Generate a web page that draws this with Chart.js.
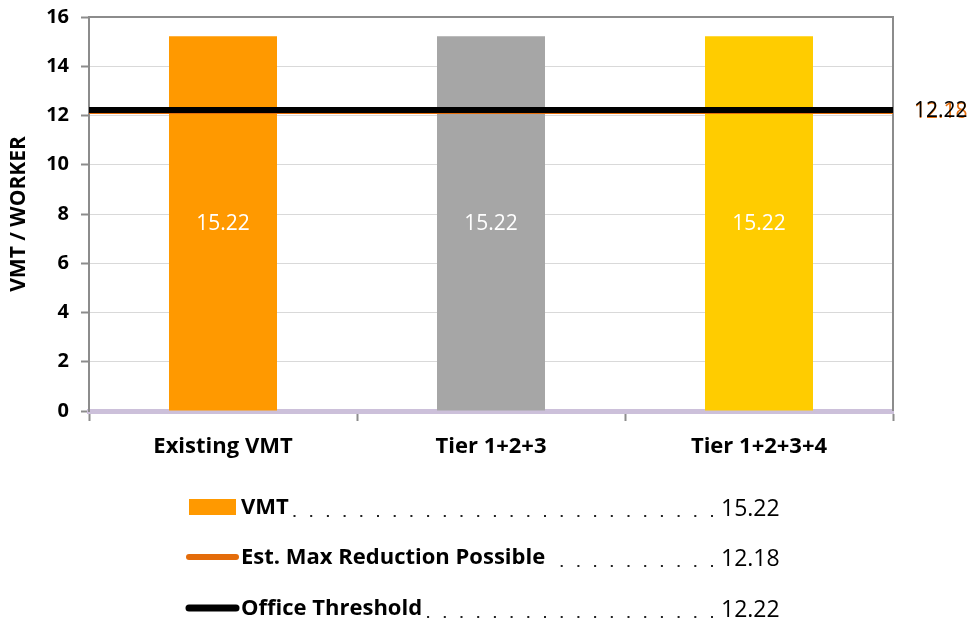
<!DOCTYPE html>
<html>
<head>
<meta charset="utf-8">
<script src="https://cdn.jsdelivr.net/npm/chart.js@4.4.0/dist/chart.umd.min.js"></script>
<style>
  html, body { margin: 0; padding: 0; background: #fff; }
  #wrap { width: 971px; height: 623px; position: relative; }
</style>
</head>
<body>
<div id="wrap"><canvas id="c"></canvas></div>
<script>
// Scenario categories and VMT per worker
const categories = ['Existing VMT', 'Tier 1+2+3', 'Tier 1+2+3+4'];
const vmtValues = [15.22, 15.22, 15.22];
const barColors = ['#FF9900', '#A6A6A6', '#FFCC00'];

// Reference levels drawn as horizontal lines
const maxReductionValue = 12.18;
const officeThresholdValue = 12.22;

// Axis settings
const yMin = 0;
const yMax = 16;
const yStep = 2;
const yTitle = 'VMT / WORKER';

// Legend table rows: label and value
const legendLabels = ['VMT', 'Est. Max Reduction Possible', 'Office Threshold'];
const legendValues = [15.22, 12.18, 12.22];

const FONT = "'Open Sans', 'DejaVu Sans', sans-serif";

// Plot frame (top and right edges)
const framePlugin = {
  id: 'frame',
  beforeDatasetsDraw(chart) {
    const { ctx, chartArea: a } = chart;
    ctx.save();
    ctx.strokeStyle = '#8C8C8C';
    ctx.lineWidth = 2;
    ctx.beginPath();
    ctx.moveTo(a.left, a.top);
    ctx.lineTo(a.right, a.top);
    ctx.lineTo(a.right, a.bottom);
    ctx.stroke();
    ctx.restore();
  }
};

// Value labels: inside bars and at the end of each reference line
const valueLabelPlugin = {
  id: 'valueLabels',
  afterDatasetsDraw(chart) {
    const { ctx } = chart;
    ctx.save();
    // bar values
    const barMeta = chart.getDatasetMeta(2);
    ctx.fillStyle = '#FFFFFF';
    ctx.font = '21px ' + FONT;
    ctx.textAlign = 'center';
    ctx.textBaseline = 'middle';
    barMeta.data.forEach((bar, i) => {
      const v = chart.data.datasets[2].data[i];
      ctx.fillText(v.toFixed(2), bar.x, (bar.y + bar.base) / 2 + 1);
    });
    // line end labels (orange first, black on top)
    [1, 0].forEach(di => {
      const ds = chart.data.datasets[di];
      const meta = chart.getDatasetMeta(di);
      const pt = meta.data[meta.data.length - 1];
      ctx.fillStyle = ds.labelColor;
      ctx.font = '21px ' + FONT;
      ctx.textAlign = 'left';
      ctx.textBaseline = 'middle';
      ctx.fillText(ds.data[ds.data.length - 1].y.toFixed(2), pt.x + 21, pt.y + 1);
    });
    ctx.restore();
  }
};

// Legend table with dotted leaders
const legendTablePlugin = {
  id: 'legendTable',
  afterDraw(chart) {
    const { ctx } = chart;
    const rowsY = [508, 558, 609];
    const keyLeft = 189, keyRight = 236, textX = 241, valueX = 721, dotEnd = 712;
    const styles = [
      { type: 'box', color: barColors[0] },
      { type: 'line', color: chart.data.datasets[1].borderColor, width: 6 },
      { type: 'line', color: chart.data.datasets[0].borderColor, width: 7 }
    ];
    ctx.save();
    legendLabels.forEach((label, i) => {
      const y = rowsY[i];
      const s = styles[i];
      if (s.type === 'box') {
        ctx.fillStyle = s.color;
        ctx.fillRect(keyLeft, y - 9, keyRight - keyLeft, 16);
      } else {
        ctx.strokeStyle = s.color;
        ctx.lineWidth = s.width;
        ctx.lineCap = 'round';
        ctx.beginPath();
        ctx.moveTo(keyLeft, y - 1);
        ctx.lineTo(keyRight, y - 1);
        ctx.stroke();
      }
      ctx.fillStyle = '#000';
      ctx.font = 'bold 22px ' + FONT;
      ctx.textAlign = 'left';
      ctx.textBaseline = 'middle';
      ctx.fillText(label, textX, y);
      const textEnd = textX + ctx.measureText(label).width;
      // dotted leader
      ctx.fillStyle = '#222';
      for (let x = dotEnd; x > textEnd + 4; x -= 16.7) {
        ctx.fillRect(x - 1, y + 7, 2, 2);
      }
      ctx.font = '23px ' + FONT;
      ctx.fillStyle = '#000';
      ctx.fillText(legendValues[i].toFixed(2), valueX, y + 1);
    });
    ctx.restore();
  }
};

new Chart(document.getElementById('c'), {
  data: {
    labels: categories,
    datasets: [
      {
        type: 'line',
        label: legendLabels[2],
        xAxisID: 'xl',
        data: [{ x: 0, y: officeThresholdValue }, { x: 1, y: officeThresholdValue }],
        borderColor: '#000000',
        labelColor: '#000000',
        borderWidth: 6,
        pointRadius: 0,
        order: 0
      },
      {
        type: 'line',
        label: legendLabels[1],
        xAxisID: 'xl',
        data: [{ x: 0, y: maxReductionValue }, { x: 1, y: maxReductionValue }],
        borderColor: '#E46C0A',
        labelColor: '#E46C0A',
        borderWidth: 6,
        pointRadius: 0,
        order: 1
      },
      {
        type: 'bar',
        label: legendLabels[0],
        xAxisID: 'x',
        data: vmtValues,
        backgroundColor: barColors,
        grouped: false,
        barPercentage: 0.403,
        categoryPercentage: 1.0,
        order: 2
      }
    ]
  },
  options: {
    responsive: true,
    maintainAspectRatio: false,
    animation: false,
    layout: { padding: { top: 17, right: 78, bottom: 0, left: 0 } },
    plugins: {
      legend: { display: false },
      tooltip: { enabled: false }
    },
    scales: {
      x: {
        type: 'category',
        position: 'bottom',
        offset: true,
        grid: {
          offset: true,
          drawOnChartArea: false,
          drawTicks: true,
          tickLength: 10,
          tickColor: '#8C8C8C',
          tickWidth: 2
        },
        border: { display: true, color: '#CCC0DA', width: 5 },
        ticks: {
          color: '#000',
          font: { family: FONT, size: 22, weight: 'bold' },
          padding: 13
        },
        afterFit(scale) { scale.height = 212; }
      },
      xl: {
        type: 'linear',
        display: false,
        min: 0,
        max: 1
      },
      y: {
        min: yMin,
        max: yMax,
        ticks: {
          stepSize: yStep,
          color: '#000',
          font: { family: FONT, size: 20, weight: 'bold' },
          padding: 12
        },
        grid: {
          color: ctx => (ctx.tick && ctx.tick.value === 0 ? 'rgba(0,0,0,0)' : '#D9D9D9'),
          lineWidth: 1,
          tickLength: 8,
          tickColor: '#8C8C8C',
          tickWidth: 2
        },
        border: { display: true, color: '#8C8C8C', width: 2 },
        title: {
          display: true,
          text: yTitle,
          color: '#000',
          font: { family: FONT, size: 21, weight: 'bold' },
          padding: { top: 6, bottom: 0 }
        },
        afterFit(scale) {
          scale.width = 89;
          scale.paddingTop = 0;
          scale.paddingBottom = 0;
        }
      }
    }
  },
  plugins: [framePlugin, valueLabelPlugin, legendTablePlugin]
});
</script>
</body>
</html>
